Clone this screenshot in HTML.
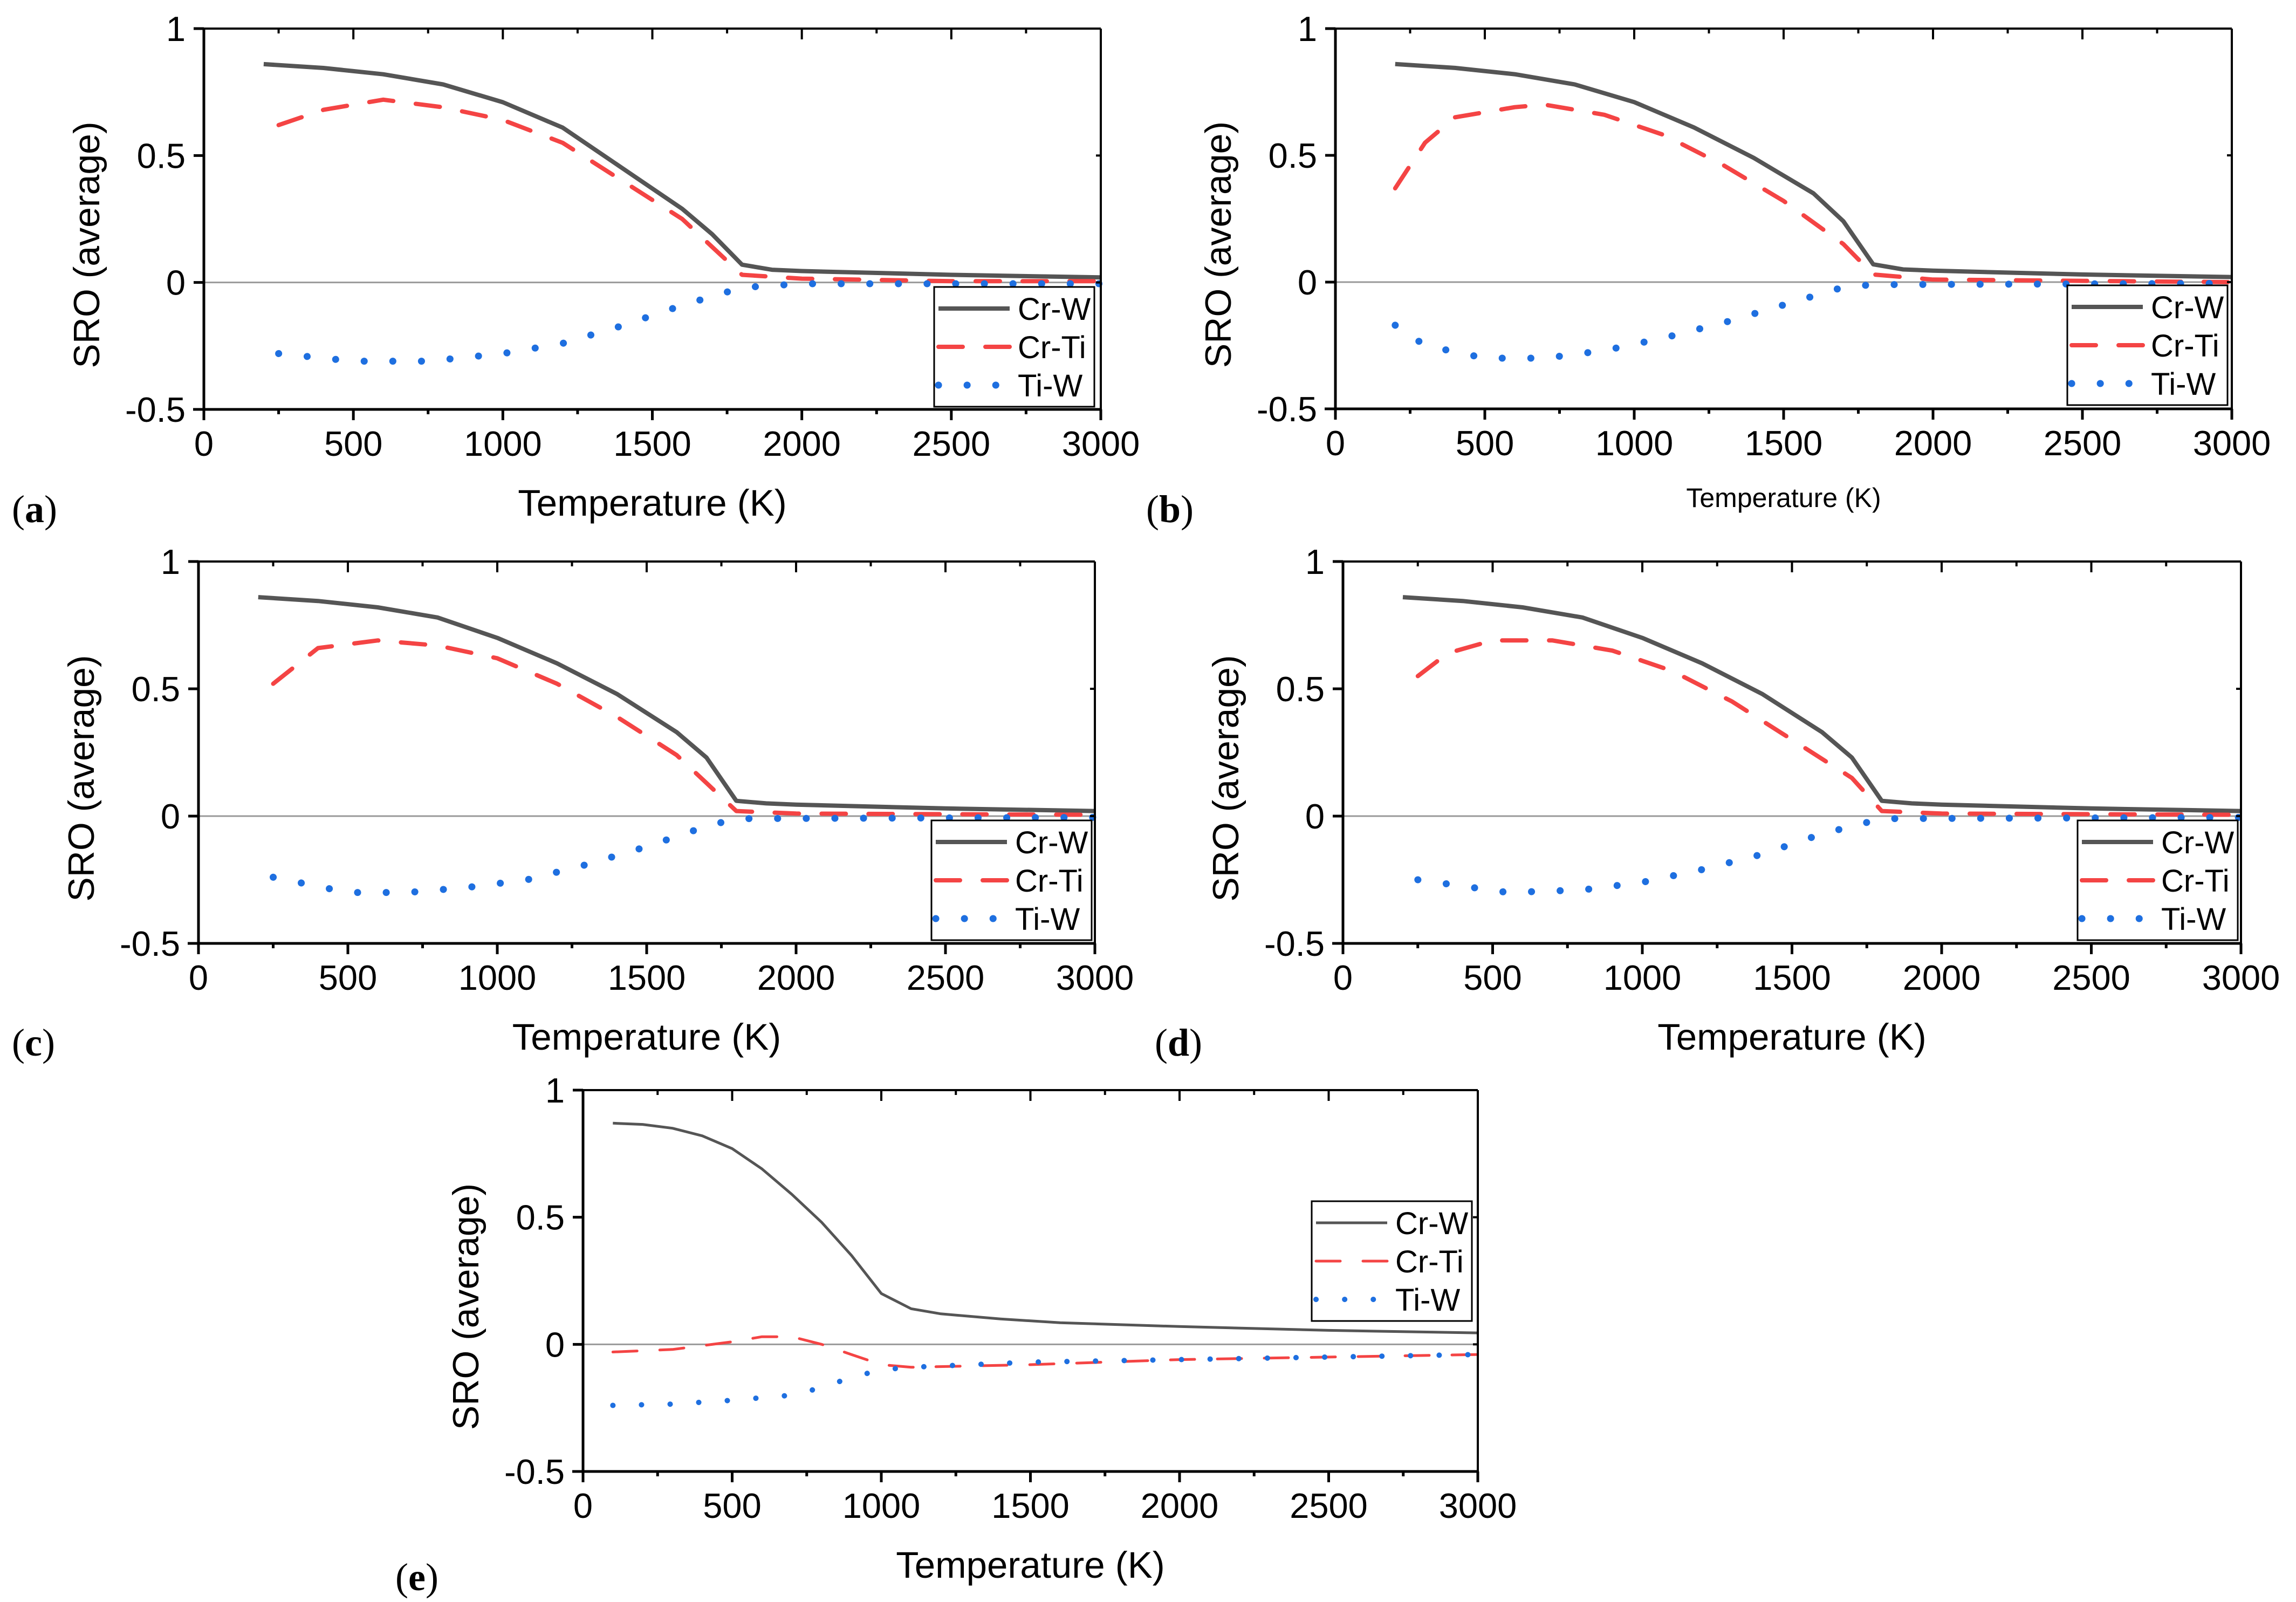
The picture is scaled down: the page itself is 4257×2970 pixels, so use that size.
<!DOCTYPE html>
<html><head><meta charset="utf-8">
<style>
html,body{margin:0;padding:0;background:#fff;}
svg{display:block;}
text{font-family:"Liberation Sans",Arial,sans-serif;fill:#000;}
.pl{font-family:"Liberation Serif","Times New Roman",serif;font-size:72px;}
</style></head>
<body>
<svg id="fig" width="4257" height="2970" viewBox="0 0 4257 2970" xmlns="http://www.w3.org/2000/svg"></svg>
<script>
// ---- data (x: temperature K, y: SRO average) ----
const xTicks = [0,500,1000,1500,2000,2500,3000];
const yTicks = [-0.5,0,0.5,1];
const seriesNames = ["Cr-W","Cr-Ti","Ti-W"];

const aCrW_T = [200,400,600,800,1000,1200,1400,1600,1700,1800,1900,2000,2500,3000];
const aCrW_V = [0.86,0.845,0.82,0.78,0.71,0.61,0.45,0.29,0.19,0.07,0.05,0.045,0.03,0.02];
const aCrTi_T = [250,400,600,800,1000,1200,1400,1600,1700,1800,2000,2500,3000];
const aCrTi_V = [0.62,0.68,0.72,0.69,0.64,0.55,0.40,0.25,0.14,0.03,0.015,0.005,0.005];
const aTiW_T = [250,500,750,1000,1200,1400,1600,1800,2000,3000];
const aTiW_V = [-0.28,-0.31,-0.31,-0.28,-0.24,-0.17,-0.09,-0.02,-0.005,-0.005];

const bCrW_T = [200,400,600,800,1000,1200,1400,1600,1700,1800,1900,2000,2500,3000];
const bCrW_V = [0.86,0.845,0.82,0.78,0.71,0.61,0.49,0.35,0.24,0.07,0.05,0.045,0.03,0.02];
const bCrTi_T = [200,300,400,600,700,900,1100,1300,1500,1700,1800,2000,3000];
const bCrTi_V = [0.37,0.55,0.65,0.69,0.70,0.66,0.58,0.46,0.32,0.15,0.03,0.01,0.0];
const bTiW_T = [200,300,500,700,900,1100,1300,1500,1700,1800,3000];
const bTiW_V = [-0.17,-0.25,-0.30,-0.30,-0.27,-0.22,-0.16,-0.09,-0.02,-0.01,-0.005];

const cCrW_T = [200,400,600,800,1000,1200,1400,1600,1700,1800,1900,2000,2500,3000];
const cCrW_V = [0.86,0.845,0.82,0.78,0.70,0.60,0.48,0.33,0.23,0.06,0.05,0.045,0.03,0.02];
const cCrTi_T = [250,400,600,800,1000,1200,1400,1600,1700,1800,2000,3000];
const cCrTi_V = [0.52,0.66,0.69,0.67,0.62,0.52,0.39,0.24,0.13,0.02,0.01,0.005];
const cTiW_T = [250,500,700,900,1100,1300,1500,1700,1800,3000];
const cTiW_V = [-0.24,-0.30,-0.30,-0.28,-0.25,-0.19,-0.12,-0.04,-0.01,-0.005];

const dCrW_T = [200,400,600,800,1000,1200,1400,1600,1700,1800,1900,2000,2500,3000];
const dCrW_V = [0.86,0.845,0.82,0.78,0.70,0.60,0.48,0.33,0.23,0.06,0.05,0.045,0.03,0.02];
const dCrTi_T = [250,350,500,700,900,1100,1300,1500,1700,1800,2000,3000];
const dCrTi_V = [0.55,0.64,0.69,0.69,0.65,0.57,0.45,0.30,0.15,0.02,0.01,0.005];
const dTiW_T = [250,550,800,1000,1200,1400,1600,1800,3000];
const dTiW_V = [-0.25,-0.30,-0.29,-0.26,-0.21,-0.15,-0.07,-0.01,-0.005];

const eCrW_T = [100,200,300,400,500,600,700,800,900,1000,1100,1200,1400,1600,2000,2500,3000];
const eCrW_V = [0.87,0.865,0.85,0.82,0.77,0.69,0.59,0.48,0.35,0.20,0.14,0.12,0.10,0.085,0.07,0.055,0.045];
const eCrTi_T = [100,300,500,600,700,800,900,1000,1100,1500,2000,2500,3000];
const eCrTi_V = [-0.03,-0.02,0.01,0.03,0.03,0.0,-0.04,-0.08,-0.09,-0.08,-0.06,-0.05,-0.04];
const eTiW_T = [100,300,500,700,800,900,1000,1100,1500,2000,2500,3000];
const eTiW_V = [-0.24,-0.235,-0.22,-0.2,-0.17,-0.13,-0.1,-0.09,-0.07,-0.06,-0.05,-0.04];

const NS = "http://www.w3.org/2000/svg";
const svg = document.getElementById("fig");
function mk(tag, attrs, parent){
  const e = document.createElementNS(NS, tag);
  for (const k in attrs) e.setAttribute(k, attrs[k]);
  (parent||svg).appendChild(e);
  return e;
}

const panels = [
  {id:"a", L:378, R:2041, T:53, B:759, lg:[1732,532], lw:8, lab:[22,968], tsize:69,
   s:[[aCrW_T,aCrW_V],[aCrTi_T,aCrTi_V],[aTiW_T,aTiW_V]]},
  {id:"b", L:2476, R:4138, T:53, B:758, lg:[3833,529], lw:8, lab:[2125,968], tsize:50,
   s:[[bCrW_T,bCrW_V],[bCrTi_T,bCrTi_V],[bTiW_T,bTiW_V]]},
  {id:"c", L:368, R:2030, T:1041, B:1749, lg:[1727,1521], lw:8, lab:[22,1957], tsize:69,
   s:[[cCrW_T,cCrW_V],[cCrTi_T,cCrTi_V],[cTiW_T,cTiW_V]]},
  {id:"d", L:2490, R:4155, T:1041, B:1749, lg:[3852,1521], lw:8, lab:[2141,1957], tsize:69,
   s:[[dCrW_T,dCrW_V],[dCrTi_T,dCrTi_V],[dTiW_T,dTiW_V]]},
  {id:"e", L:1081, R:2740, T:2021, B:2728, lg:[2432,2227], lw:5, lab:[733,2948], tsize:69,
   s:[[eCrW_T,eCrW_V],[eCrTi_T,eCrTi_V],[eTiW_T,eTiW_V]]}
];

const styles = [
  {stroke:"#555555", dash:null, cap:"butt"},
  {stroke:"#f44444", dash:"45 42", cap:"round"},
  {stroke:"#1e6fe0", dash:"0.1 53", cap:"round"}
];

panels.forEach(p=>{
  const g = mk("g", {});
  
  
  const X = v => p.L + (v-0)/(3000-0)*(p.R-p.L);
  const Y = v => p.B - (v-(-0.5))/(1-(-0.5))*(p.B-p.T);

  const z = mk("line", {x1:p.L, x2:p.R, y1:Y(0), y2:Y(0), stroke:"#9a9a9a", "stroke-width":3}, g);
  
  

  p.s.forEach((sd,i)=>{
    const pts = sd[0].map((t,k)=>X(t).toFixed(1)+","+Y(sd[1][k]).toFixed(1)).join(" ");
    const st = styles[i];
    const w = i===2 ? (p.lw+5) : p.lw;
    const a = {points:pts, fill:"none", stroke:st.stroke, "stroke-width":w, "stroke-linecap":st.cap, "stroke-linejoin":"round"};
    if (st.dash) a["stroke-dasharray"] = st.dash;
    const pl = mk("polyline", a, g);
    
    
  });

  mk("line",{x1:p.L,x2:p.R,y1:p.T,y2:p.T,stroke:"#000","stroke-width":4},g);
  mk("line",{x1:p.R,x2:p.R,y1:p.T,y2:p.B,stroke:"#000","stroke-width":4},g);
  const xa = mk("line",{x1:p.L-20,x2:p.R+2,y1:p.B,y2:p.B,stroke:"#000","stroke-width":5},g);
  
  
  const ya = mk("line",{x1:p.L,x2:p.L,y1:p.T-2,y2:p.B+20,stroke:"#000","stroke-width":5},g);
  
  

  for (let v=0; v<=3000; v+=250){
    const major = v%500===0;
    const len = major?20:9;
    mk("line",{x1:X(v),x2:X(v),y1:p.B,y2:p.B+len,stroke:"#000","stroke-width":5},g);
    mk("line",{x1:X(v),x2:X(v),y1:p.T,y2:p.T+len,stroke:"#000","stroke-width":4},g);
  }
  xTicks.forEach(v=>{
    const t = mk("text",{x:X(v), y:p.B+86, "font-size":65, "text-anchor":"middle"}, g);
    t.textContent = String(v);
    
    
  });
  yTicks.forEach(v=>{
    mk("line",{x1:p.L-19,x2:p.L,y1:Y(v),y2:Y(v),stroke:"#000","stroke-width":5},g);
    mk("line",{x1:p.R-9,x2:p.R,y1:Y(v),y2:Y(v),stroke:"#000","stroke-width":4},g);
    const t = mk("text",{x:p.L-34, y:Y(v)+23, "font-size":65, "text-anchor":"end"}, g);
    t.textContent = String(v);
    
    
  });

  const xt = mk("text",{x:(p.L+p.R)/2, y:p.B+ (p.id==="b"?182:197), "font-size":p.tsize, "text-anchor":"middle"}, g);
  xt.textContent = "Temperature (K)";
  
  
  const cy = (p.T+p.B)/2 + 48;
  const yt = mk("text",{x:0, y:0, "font-size":68, "text-anchor":"middle", transform:"translate("+(p.L-194)+","+cy+") rotate(-90)"}, g);
  yt.textContent = "SRO (average)";
  
  

  const lx = p.lg[0], ly = p.lg[1];
  const lg = mk("g",{},g);
  
  
  mk("rect",{x:lx, y:ly, width:297, height:222, fill:"#fff", stroke:"#000", "stroke-width":3}, lg);
  seriesNames.forEach((n,i)=>{
    const ry = ly + 40 + i*71;
    const st = styles[i];
    const w = i===2 ? (p.lw+5) : p.lw;
    const a = {x1:lx+8, x2:lx+140, y1:ry, y2:ry, stroke:st.stroke, "stroke-width":w, "stroke-linecap":st.cap};
    if (st.dash) a["stroke-dasharray"] = st.dash;
    mk("line", a, lg);
    const t = mk("text",{x:lx+155, y:ry+21, "font-size":58}, lg);
    t.textContent = n;
    
    
  });

  const pl = mk("text",{x:p.lab[0], y:p.lab[1], class:"pl"}, g);
  pl.innerHTML = '(<tspan font-weight="bold">'+p.id+'</tspan>)';
  
  
});
</script>
</body></html>
